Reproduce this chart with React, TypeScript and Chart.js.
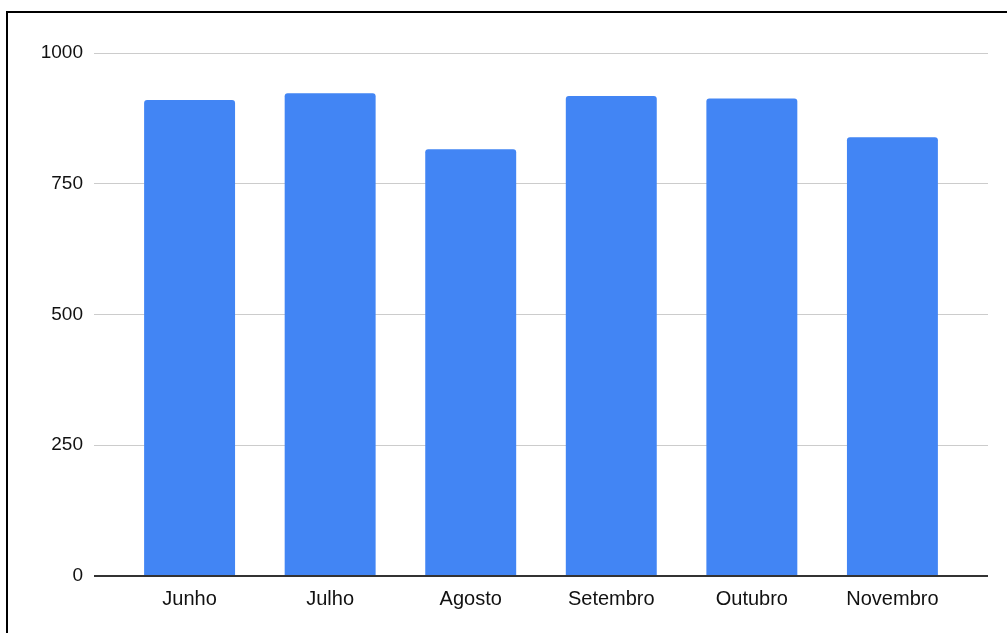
import React, { useEffect, useRef } from "react";
import { Chart, registerables } from "chart.js";

Chart.register(...registerables);

const months: string[] = ["Junho", "Julho", "Agosto", "Setembro", "Outubro", "Novembro"];
const values: number[] = [910, 923, 816, 918, 913, 839];
const yTicks: number[] = [0, 250, 500, 750, 1000];

export default function App() {
  const ref = useRef<HTMLCanvasElement | null>(null);

  useEffect(() => {
    const prevOverflow = document.body.style.overflow;
    document.body.style.overflow = "hidden";
    const canvas = ref.current;
    if (!canvas) return;
    const chart = new Chart(canvas, {
      type: "bar",
      data: {
        datasets: [
          {
            label: "Valor",
            data: months.map((_, i) => ({ x: i, y: values[i] })),
            backgroundColor: "#4285F4",
            borderWidth: 0,
            borderRadius: { topLeft: 3, topRight: 3, bottomLeft: 0, bottomRight: 0 },
            borderSkipped: "start",
            categoryPercentage: 1,
            barPercentage: 0.647,
          },
        ],
      },
      options: {
        responsive: false,
        maintainAspectRatio: false,
        animation: false,
        layout: { padding: { top: 53, right: 19, bottom: 0, left: 0 } },
        plugins: {
          legend: { display: false },
          title: { display: false },
          tooltip: { enabled: false },
        },
        scales: {
          x: {
            type: "linear",
            min: -0.68,
            max: 5.68,
            offset: false,
            grid: { display: false, drawTicks: false, offset: false },
            border: { display: false },
            afterFit: (scale: any) => {
              scale.height = 633 - 576;
            },
            afterBuildTicks: (scale: any) => {
              scale.ticks = months.map((_, i) => ({ value: i }));
            },
            ticks: {
              autoSkip: false,
              maxRotation: 0,
              padding: 11,
              color: "#111111",
              font: { family: "'Liberation Sans', Arial, sans-serif", size: 20 },
              callback: (v: any) => {
                const i = Math.round(Number(v));
                return i >= 0 && i < months.length ? months[i] : "";
              },
            },
          },
          y: {
            min: 0,
            max: 1000,
            grid: {
              drawTicks: false,
              color: (ctx: any) => (ctx.tick && ctx.tick.value === 0 ? "#333333" : "#cccccc"),
              lineWidth: (ctx: any) => (ctx.tick && ctx.tick.value === 0 ? 2 : 1),
            },
            border: { display: false },
            afterFit: (scale: any) => {
              scale.width = 94;
            },
            afterBuildTicks: (scale: any) => {
              scale.ticks = yTicks.map((v) => ({ value: v }));
            },
            ticks: {
              padding: 11,
              color: "#111111",
              font: { family: "'Liberation Sans', Arial, sans-serif", size: 19 },
              callback: (v: any) => String(v),
            },
          },
        },
      },
    });
    return () => {
      chart.destroy();
      document.body.style.overflow = prevOverflow;
    };
  }, []);

  return (
    <div style={{ position: "fixed", left: 0, top: 0, width: 1007, height: 633, overflow: "hidden", background: "#ffffff" }}>
      <div
        style={{
          position: "absolute",
          left: 6,
          top: 11,
          width: 1100,
          height: 700,
          border: "2px solid #000000",
          boxSizing: "border-box",
        }}
      />
      <canvas ref={ref} width={1007} height={633} style={{ position: "absolute", left: 0, top: 0, width: 1007, height: 633 }} />
    </div>
  );
}
